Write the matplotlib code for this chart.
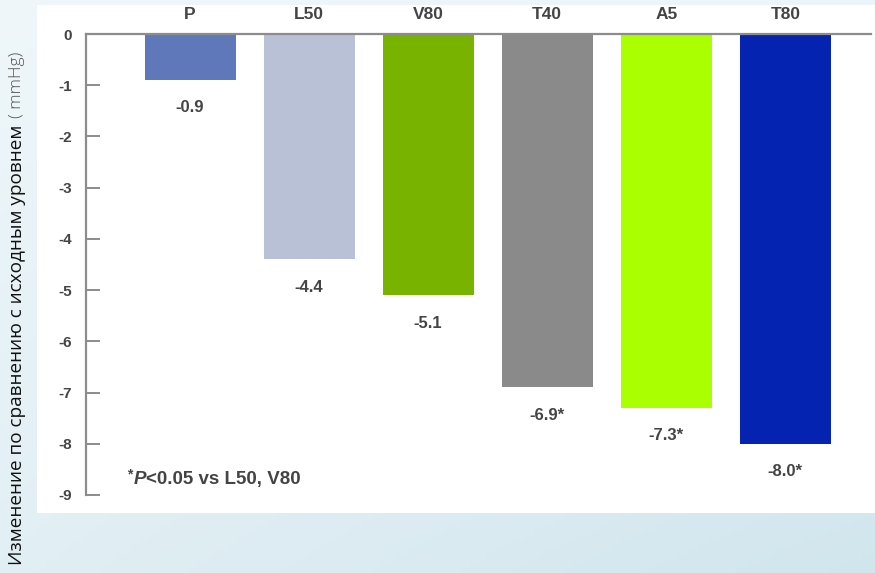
import numpy as np
import matplotlib
matplotlib.use("Agg")
import matplotlib.pyplot as plt
from matplotlib.patches import Rectangle
from matplotlib.transforms import offset_copy

categories = ["P", "L50", "V80", "T40", "A5", "T80"]
values = [-0.9, -4.4, -5.1, -6.9, -7.3, -8.0]
value_labels = ["-0.9", "-4.4", "-5.1", "-6.9*", "-7.3*", "-8.0*"]
bar_colors = ["#5f78b9", "#b9c1d7", "#78b300", "#8a8a8a", "#aaff00", "#0323b0"]
y_ticks = [0, -1, -2, -3, -4, -5, -6, -7, -8, -9]
y_label_main = "Изменение по сравнению с исходным уровнем "
y_label_unit = "( mmHg)"

W, H = 875, 573
fig = plt.figure(figsize=(W / 100, H / 100), dpi=100)

# soft bluish backdrop behind the white panel
bg = fig.add_axes([0, 0, 1, 1], zorder=-10)
gx = np.linspace(0, 1, 200)
gy = np.linspace(0, 1, 120)
GX, GY = np.meshgrid(gx, gy)
base = np.array([0.95, 0.975, 0.985])
tint = np.array([0.82, 0.90, 0.93])
mix = (0.2 + 0.8 * GY[..., None]) * (0.5 + 0.5 * GX[..., None])
img = base * (1 - mix) + tint * mix
bg.imshow(img, extent=[0, 1, 0, 1], aspect="auto", origin="upper")
bg.add_patch(Rectangle((37 / W, 1 - 513 / H), (W - 37) / W, (513 - 5) / H,
                       facecolor="white", edgecolor="none"))
bg.set_xlim(0, 1)
bg.set_ylim(0, 1)
bg.axis("off")

ax_left = 86 / W
ax_right = 871 / W
ax_top = 1 - 34 / H
ax_bot = 1 - 495 / H
ax = fig.add_axes([ax_left, ax_bot, ax_right - ax_left, ax_top - ax_bot])
ax.patch.set_alpha(0)

x = np.arange(len(categories))
ax.bar(x, values, width=0.765, color=bar_colors, zorder=2)
ax.set_xlim(-0.874, 5.72)
ax.set_ylim(-9, 0)

grey = "#8c8c8c"
txt = "#444444"
font = "Liberation Sans"
for s in ["right", "bottom"]:
    ax.spines[s].set_visible(False)
for s in ["left", "top"]:
    ax.spines[s].set_color(grey)
    ax.spines[s].set_linewidth(1.6)

ax.set_yticks(y_ticks)
ax.set_yticklabels([str(t) for t in y_ticks], fontfamily=font,
                   fontweight="bold", fontsize=11, color=txt)
ax.tick_params(axis="y", direction="in", length=10, width=1.4, color=grey, pad=10)
ax.tick_params(axis="x", which="both", top=False, bottom=False,
               labeltop=True, labelbottom=False, pad=5)
ax.set_xticks(x)
ax.set_xticklabels(categories, fontfamily=font, fontweight="bold",
                   fontsize=12.5, color=txt)

fig.canvas.draw()
renderer = fig.canvas.get_renderer()

for xi, v, lab in zip(x, values, value_labels):
    ax.annotate(lab, (xi, v), xytext=(0, -20), textcoords="offset points",
                ha="center", va="center", fontfamily=font,
                fontweight="bold", fontsize=12, color=txt)

# significance footnote: small raised asterisk, italic P, then the rest
fx, fy = -0.53, -8.7
star = ax.text(fx, fy + 0.1, "*", fontsize=10, color=txt, va="center", ha="left",
               fontfamily=font, fontweight="bold")
bb = star.get_window_extent(renderer)
p = ax.text(fx, fy, "P", fontsize=13.5, color=txt, va="center", ha="left",
            fontfamily=font, fontweight="bold", fontstyle="italic",
            transform=offset_copy(ax.transData, fig=fig, x=bb.width + 1, units="dots"))
bp = p.get_window_extent(renderer)
ax.text(fx, fy, "<0.05 vs L50, V80", fontsize=13.5, color=txt, va="center",
        ha="left", fontfamily=font, fontweight="bold",
        transform=offset_copy(ax.transData, fig=fig,
                              x=bb.width + bp.width + 1, units="dots"))

# rotated y-axis title with a lighter unit part
yl = fig.text(17 / W, 1 - 565 / H, y_label_main, rotation=90,
              ha="center", va="bottom", fontsize=13.7, fontfamily="Open Sans",
              color="#111111")
byl = yl.get_window_extent(renderer)
fig.text(17 / W, (byl.y1 + 2) / H, y_label_unit, rotation=90, ha="center",
         va="bottom", fontsize=12.5, fontfamily="Open Sans", fontweight="light",
         color="#555555")

fig.savefig("out.png", dpi=100)
